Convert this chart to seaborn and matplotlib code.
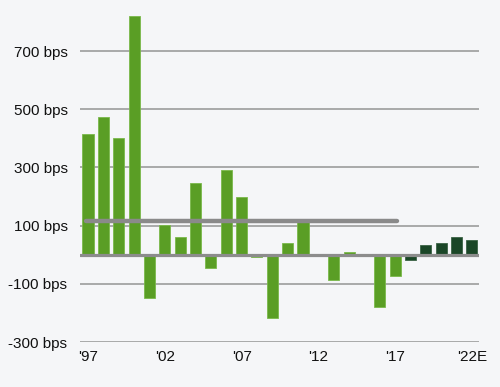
import matplotlib
matplotlib.use("Agg")
import matplotlib.pyplot as plt
import seaborn as sns
import pandas as pd

# data
years = ["'97", "'98", "'99", "'00", "'01", "'02", "'03", "'04", "'05", "'06",
         "'07", "'08", "'09", "'10", "'11", "'12", "'13", "'14", "'15", "'16",
         "'17", "'18", "'19", "'20", "'21", "'22E"]
values = [415, 475, 400, 820, -150, 104, 61, 245, -44, 290,
          200, -8, -216, 42, 115, -2, -86, 8, 2, -179,
          -72, -18, 33, 42, 62, 52]
kind = ["hist"] * 21 + ["recent"] * 5
avg_value = 117
avg_first, avg_last = "'97", "'17"
yticks = [-300, -100, 100, 300, 500, 700]
ytick_labels = ["-300 bps", "-100 bps", "100 bps", "300 bps", "500 bps", "700 bps"]
xtick_labels = ["'97", "'02", "'07", "'12", "'17", "'22E"]

df = pd.DataFrame({"year": years, "bps": values, "kind": kind})

bg = "#f5f6f8"
sns.set_style("white")
plt.rcParams["font.family"] = ["Liberation Sans", "DejaVu Sans"]

fig = plt.figure(figsize=(5, 3.87), dpi=100, facecolor=bg)
ax = fig.add_axes([0.16, 0.116, 0.798, 0.85])
ax.set_facecolor(bg)

# grid lines behind bars
for t in yticks:
    ax.axhline(t, color="#a3a3a3", lw=1.3, zorder=0)

sns.barplot(data=df, x="year", y="bps", hue="kind", dodge=False, width=0.72,
            palette={"hist": "#5a9e25", "recent": "#1a4627"}, saturation=1,
            legend=False, ax=ax, zorder=2)
for p in ax.patches:
    fc = p.get_facecolor()
    p.set_edgecolor("#7ab94a" if fc[1] > 0.5 else "#3b6346")
    p.set_linewidth(0.6)

ax.axhline(0, color="#8c8c8c", lw=2.3, zorder=3)
i0, i1 = years.index(avg_first), years.index(avg_last)
ax.plot([i0 - 0.15, i1 + 0.1], [avg_value, avg_value], color="#8a8a8a", lw=3.2,
        solid_capstyle="round", zorder=4)

ax.set_ylim(-300, 830)
ax.set_xlim(-0.52, len(years) - 0.54)
ax.set_yticks(yticks)
ax.set_yticklabels(ytick_labels)
ax.set_xticks([years.index(l) for l in xtick_labels])
ax.set_xticklabels(xtick_labels)
ax.tick_params(axis="both", length=0, labelsize=11, colors="#111111")
ax.tick_params(axis="y", pad=9)
ax.tick_params(axis="x", pad=6)
ax.set_xlabel("")
ax.set_ylabel("")
for s in ax.spines.values():
    s.set_visible(False)

fig.savefig("out.png", dpi=100, facecolor=bg)
